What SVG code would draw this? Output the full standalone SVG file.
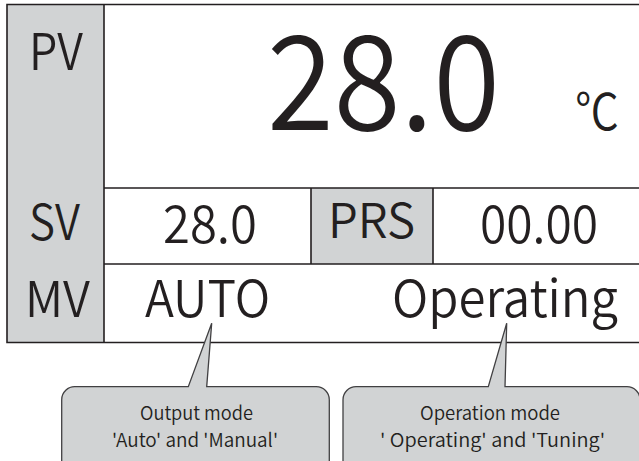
<svg xmlns="http://www.w3.org/2000/svg" width="639" height="461" viewBox="0 0 639 461">
<style>
.t{font-family:"Noto Sans CJK JP","Noto Sans",sans-serif;font-weight:350;fill:#231f20}
.ln{stroke:#231f20;stroke-width:1.6;fill:none}
.gray{fill:#d1d3d4}
.call{fill:#d1d3d4;stroke:#414042;stroke-width:1.3}
</style>
<rect width="639" height="461" fill="#ffffff"/>
<g id="frame">
<rect class="gray" x="7" y="4.5" width="97" height="338"/>
<rect class="gray" x="311" y="188" width="122" height="76"/>
<path class="ln" d="M645 4.5H7V342.5H645M104 4.5V342.5M104 188H645M104 264H645M311 188V264M433 188V264"/>
</g>
<g id="pv-row">
<text class="t" x="29" y="70" font-size="51" textLength="54" lengthAdjust="spacingAndGlyphs">PV</text>
<text class="t" x="267" y="130" font-size="131" textLength="233" lengthAdjust="spacingAndGlyphs">28.0</text>
<text class="t" x="575" y="130" font-size="50" textLength="44" lengthAdjust="spacingAndGlyphs">℃</text>
</g>
<g id="sv-row">
<text class="t" x="29" y="240" font-size="49" textLength="51" lengthAdjust="spacingAndGlyphs">SV</text>
<text class="t" x="163" y="243" font-size="52" textLength="94" lengthAdjust="spacingAndGlyphs">28.0</text>
<text class="t" x="328" y="238" font-size="48" textLength="87" lengthAdjust="spacingAndGlyphs">PRS</text>
<text class="t" x="480" y="243" font-size="52" textLength="118" lengthAdjust="spacingAndGlyphs">00.00</text>
</g>
<g id="mv-row">
<text class="t" x="25" y="317" font-size="49" textLength="65" lengthAdjust="spacingAndGlyphs">MV</text>
<text class="t" x="145" y="317" font-size="50" textLength="125" lengthAdjust="spacingAndGlyphs">AUTO</text>
<text class="t" x="392" y="317" font-size="51" textLength="226" lengthAdjust="spacingAndGlyphs">Operating</text>
</g>
<g id="callout-output">
<path class="call" d="M75.5 386.7H188.3L211.7 323.3L206.7 386.7H316.3A13 13 0 0 1 329.3 399.7V475H61.7V399.7A13 13 0 0 1 75.5 386.7Z"/>
<text class="t" x="140" y="420" font-size="19" textLength="113" lengthAdjust="spacingAndGlyphs">Output mode</text>
<text class="t" x="112" y="447" font-size="19" textLength="166" lengthAdjust="spacingAndGlyphs">'Auto' and 'Manual'</text>
</g>
<g id="callout-operation">
<path class="call" d="M356 386.7H488.3L506.7 323.3L505 386.7H627A13 13 0 0 1 640 399.7V475H343V399.7A13 13 0 0 1 356 386.7Z"/>
<text class="t" x="420" y="420" font-size="19" textLength="140" lengthAdjust="spacingAndGlyphs">Operation mode</text>
<text class="t" x="380" y="447" font-size="19" textLength="225" lengthAdjust="spacingAndGlyphs">' Operating' and 'Tuning'</text>
</g>
</svg>
